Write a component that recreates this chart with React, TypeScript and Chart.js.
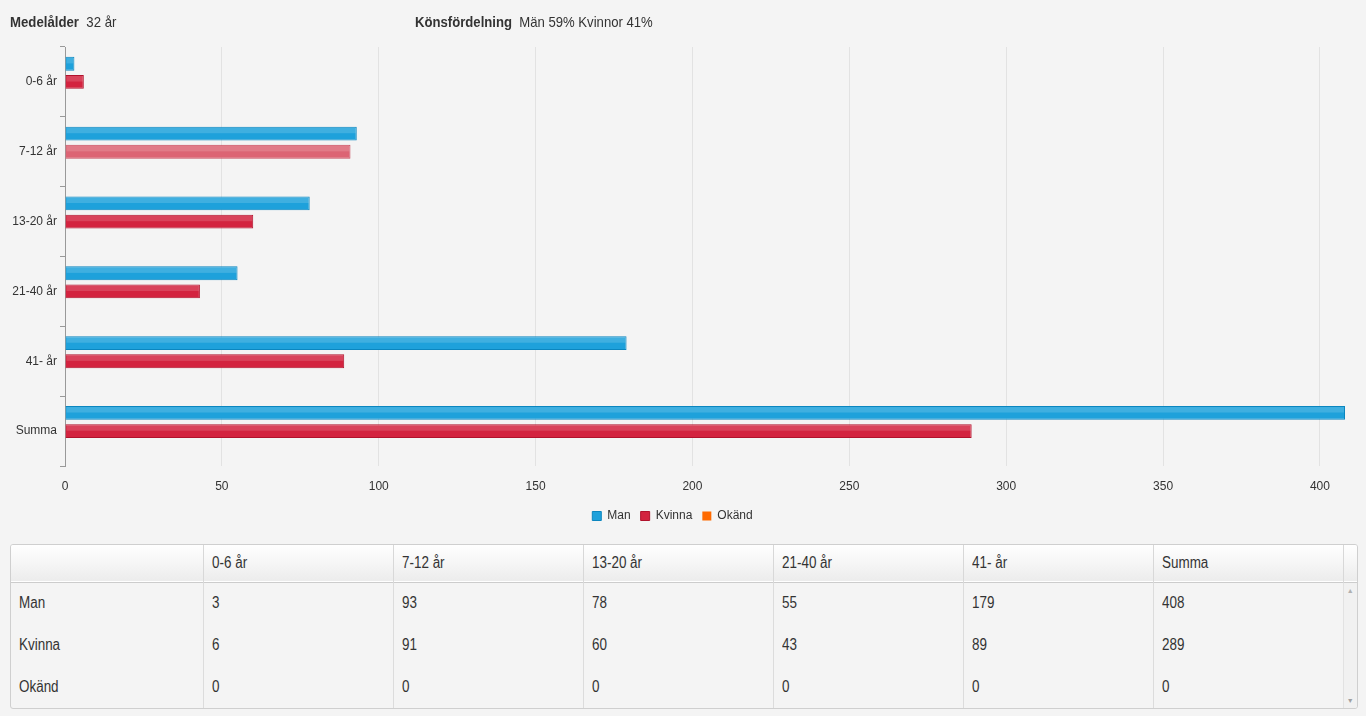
import React, { useEffect, useRef } from "react";
import { Chart, registerables } from "chart.js";

Chart.register(...registerables);

const categories = ["0-6 år", "7-12 år", "13-20 år", "21-40 år", "41- år", "Summa"];
const manValues = [3, 93, 78, 55, 179, 408];
const kvinnaValues = [6, 91, 60, 43, 89, 289];
const okandValues = [0, 0, 0, 0, 0, 0];
const seriesNames = ["Man", "Kvinna", "Okänd"];
const xTickStep = 50;
const xMax = 408;

const FONT = "'Liberation Sans Narrow', 'Arial Narrow', 'Liberation Sans', Arial, sans-serif";

const blue = "#1ea1db";
const blueBorder = "#0b86bf";
const red = "#d3233f";
const redBorder = "#b0122c";
const redLight = "#dc6474";
const redLightBorder = "#c94c5e";
const orange = "#ff6a00";

const highlightPlugin = {
  id: "barHighlight",
  afterDatasetsDraw(chart: any) {
    const ctx = chart.ctx;
    chart.data.datasets.forEach((_ds: any, di: number) => {
      const meta = chart.getDatasetMeta(di);
      meta.data.forEach((el: any) => {
        const { x, y, base, height } = el.getProps(["x", "y", "base", "height"], true);
        const w = x - base;
        if (w <= 1) return;
        const top = y - height / 2;
        ctx.save();
        ctx.fillStyle = "rgba(255,255,255,0.15)";
        ctx.fillRect(base + 1, top + 1, w - 2, height * 0.4);
        ctx.restore();
      });
    });
  },
};

function Narrow({ children, scale = 0.88 }: { children: React.ReactNode; scale?: number }) {
  return (
    <span style={{ display: "inline-block", transform: `scaleX(${scale})`, transformOrigin: "left center", whiteSpace: "nowrap" }}>
      {children}
    </span>
  );
}

function BarChart() {
  const ref = useRef<HTMLCanvasElement | null>(null);
  useEffect(() => {
    if (!ref.current) return;
    const chart = new Chart(ref.current, {
      type: "bar",
      data: {
        labels: categories,
        datasets: [
          {
            label: seriesNames[0],
            data: manValues,
            backgroundColor: blue,
            borderColor: blueBorder,
            borderWidth: 1,
          },
          {
            label: seriesNames[1],
            data: kvinnaValues,
            backgroundColor: kvinnaValues.map((_, i) => (i === 1 ? redLight : red)),
            borderColor: kvinnaValues.map((_, i) => (i === 1 ? redLightBorder : redBorder)),
            borderWidth: 1,
          },
          {
            label: seriesNames[2],
            data: okandValues,
            backgroundColor: orange,
            borderColor: orange,
            borderWidth: 0,
          },
        ],
      },
      options: {
        indexAxis: "y",
        animation: false,
        responsive: true,
        maintainAspectRatio: false,
        datasets: {
          bar: { categoryPercentage: 0.78, barPercentage: 0.76 },
        },
        layout: { padding: { top: 47, right: 21, bottom: 0, left: 0 } },
        scales: {
          x: {
            min: 0,
            max: xMax,
            afterFit: (s: any) => {
              s.height = 34;
            },
            ticks: {
              stepSize: xTickStep,
              includeBounds: false,
              padding: 13,
              color: "#333",
              font: { family: FONT, size: 12 },
            },
            grid: { color: "#e2e2e2", drawTicks: false, lineWidth: 1 },
            border: { display: false },
          },
          y: {
            afterFit: (s: any) => {
              s.width = 65;
            },
            ticks: {
              color: "#333",
              padding: 3,
              font: { family: FONT, size: 12 },
            },
            grid: {
              drawOnChartArea: false,
              offset: true,
              tickLength: 5,
              color: "#999",
            },
            border: { display: true, color: "#999" },
          },
        },
        plugins: {
          legend: {
            position: "bottom",
            labels: {
              boxWidth: 9,
              boxHeight: 9,
              padding: 10,
              color: "#333",
              font: { family: FONT, size: 12 },
            },
          },
          tooltip: { enabled: false },
        },
      },
      plugins: [highlightPlugin],
    } as any);
    return () => chart.destroy();
  }, []);
  return (
    <div style={{ position: "absolute", left: 0, top: 0, width: 1366, height: 532 }}>
      <canvas ref={ref} />
    </div>
  );
}

const rowNames = ["Man", "Kvinna", "Okänd"];
const rowValues = [manValues, kvinnaValues, okandValues];

function DataTable() {
  const cellBase: React.CSSProperties = {
    padding: "0 8px",
    textAlign: "left",
    color: "#333",
    fontFamily: FONT,
    fontSize: 16,
    whiteSpace: "nowrap",
    overflow: "hidden",
  };
  return (
    <div
      style={{
        position: "absolute",
        left: 10,
        top: 544,
        width: 1346,
        height: 163,
        border: "1px solid #cfcfcf",
        borderRadius: 3,
        overflow: "hidden",
        background: "#f4f4f4",
      }}
    >
      <table style={{ borderCollapse: "collapse", tableLayout: "fixed", width: 1346 }}>
        <colgroup>
          <col style={{ width: 192 }} />
          {categories.map((c) => (
            <col key={c} style={{ width: 190 }} />
          ))}
          <col style={{ width: 14 }} />
        </colgroup>
        <thead>
          <tr
            style={{
              height: 37,
              background: "linear-gradient(#ffffff, #ececec)",
              borderBottom: "1px solid #cccccc",
            }}
          >
            <th style={{ ...cellBase, fontWeight: "normal" }}></th>
            {categories.map((c) => (
              <th key={c} style={{ ...cellBase, fontWeight: "normal", borderLeft: "1px solid #d8d8d8" }}>
                <Narrow scale={0.84}>{c}</Narrow>
              </th>
            ))}
            <th style={{ borderLeft: "1px solid #d8d8d8" }}></th>
          </tr>
        </thead>
        <tbody>
          {rowNames.map((name, r) => (
            <tr key={name} style={{ height: 42 }}>
              <td style={cellBase}>
                <Narrow scale={0.84}>{name}</Narrow>
              </td>
              {rowValues[r].map((v, i) => (
                <td key={i} style={{ ...cellBase, borderLeft: "1px solid #dcdcdc" }}>
                  <Narrow scale={0.84}>{v}</Narrow>
                </td>
              ))}
              {r === 0 ? (
                <td
                  rowSpan={3}
                  style={{
                    background: "#f1f1f1",
                    borderLeft: "1px solid #e2e2e2",
                    position: "relative",
                    padding: 0,
                  }}
                >
                  <div style={{ position: "absolute", top: 4, left: 0, width: "100%", textAlign: "center", fontSize: 7, color: "#b0b0b0" }}>▲</div>
                  <div style={{ position: "absolute", bottom: 4, left: 0, width: "100%", textAlign: "center", fontSize: 7, color: "#a0a0a0" }}>▼</div>
                </td>
              ) : null}
            </tr>
          ))}
        </tbody>
      </table>
    </div>
  );
}

export default function App() {
  useEffect(() => {
    document.body.style.margin = "0";
    document.body.style.background = "#f4f4f4";
  }, []);
  return (
    <div style={{ position: "fixed", left: 0, top: 0, width: 1366, height: 716, background: "#f4f4f4", fontFamily: FONT }}>
      <BarChart />
      <div style={{ position: "absolute", left: 10, top: 13, fontSize: 15, color: "#333" }}>
        <Narrow scale={0.88}>
          <b>Medelålder</b>&nbsp;&nbsp;32 år
        </Narrow>
      </div>
      <div style={{ position: "absolute", left: 415, top: 13, fontSize: 15, color: "#333" }}>
        <Narrow scale={0.875}>
          <b>Könsfördelning</b>&nbsp;&nbsp;Män 59% Kvinnor 41%
        </Narrow>
      </div>
      <DataTable />
    </div>
  );
}
